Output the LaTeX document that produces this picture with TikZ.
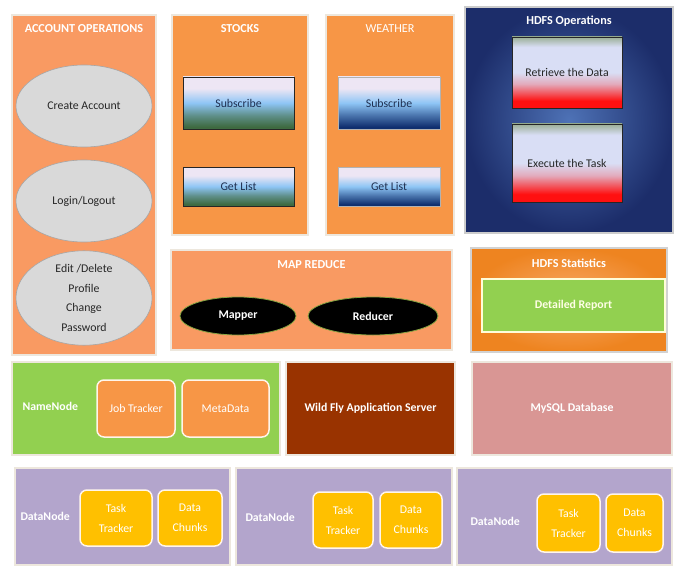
\documentclass[tikz,border=0pt]{standalone}
\usepackage{fontspec}
\setmainfont{Carlito}
\usetikzlibrary{shapes.geometric}
\definecolor{salmon}{HTML}{F99A62}
\definecolor{orng}{HTML}{F79646}
\definecolor{dkorng}{HTML}{EE8420}
\definecolor{grn}{HTML}{92D050}
\definecolor{brwn}{HTML}{993300}
\definecolor{pnk}{HTML}{D99694}
\definecolor{lav}{HTML}{B3A5CC}
\definecolor{ylw}{HTML}{FFC000}
\definecolor{frame}{HTML}{EDE7DD}
\definecolor{ellgray}{HTML}{D9D9D9}
\definecolor{navytxt}{HTML}{1F2F50}
\definecolor{sLav}{HTML}{EDE6F4}
\definecolor{sBlue}{HTML}{8EC5F5}
\definecolor{sGreen}{HTML}{3E6A40}
\definecolor{sNavy}{HTML}{0F2F6F}
\definecolor{rTop}{HTML}{9AAE96}
\definecolor{rLav}{HTML}{D9DEF5}
\definecolor{rRed}{HTML}{FF1010}
\definecolor{hIn}{HTML}{4E72B6}
\definecolor{hOut}{HTML}{1C2D6A}
\pgfdeclareverticalshading{stockshade}{100bp}{color(0bp)=(sGreen); color(27bp)=(sGreen); color(38bp)=(sGreen!60!sBlue); color(50bp)=(sBlue); color(64bp)=(sLav); color(100bp)=(sLav)}
\pgfdeclareverticalshading{weathshade}{100bp}{color(0bp)=(sNavy); color(27bp)=(sNavy); color(38bp)=(sNavy!55!sBlue); color(50bp)=(sBlue); color(64bp)=(sLav); color(100bp)=(sLav)}
\pgfdeclareverticalshading{hdfsshade}{100bp}{color(0bp)=(rRed); color(30bp)=(rRed); color(42bp)=(rRed!25!rLav); color(50bp)=(rLav); color(68bp)=(rLav); color(75bp)=(rTop); color(100bp)=(rTop)}
\tikzset{
  panel/.style={draw=frame, line width=1.5pt, inner sep=0pt},
  ptitle/.style={text=white, font=\bfseries\fontsize{12.2}{14}\selectfont},
  oval/.style={ellipse, fill=ellgray, draw=gray!70, line width=0.6pt, inner sep=0pt, align=center, text=black!85, font=\fontsize{11.8}{19.5}\selectfont},
  stbtn/.style={draw=black!85, line width=0.8pt, shading=stockshade, inner sep=0pt, text=navytxt, font=\fontsize{11.8}{13}\selectfont},
  wbtn/.style={draw=gray!60, line width=0.5pt, shading=weathshade, inner sep=0pt, text=navytxt, font=\fontsize{11.8}{13}\selectfont},
  hbtn/.style={draw=black!85, line width=0.8pt, shading=hdfsshade, inner sep=0pt, text=black!85, font=\fontsize{11.8}{13}\selectfont},
  blk/.style={ellipse, fill=black, draw=yellow!60!green!70!black, line width=0.8pt, inner sep=0pt, text=white, font=\bfseries\fontsize{11.8}{13}\selectfont},
  rbox/.style={rounded corners=7pt, draw=white!92!orange, line width=1.5pt, inner sep=0pt, align=center, text=white, font=\fontsize{11.8}{20}\selectfont},
  wlab/.style={text=white, font=\bfseries\fontsize{11.8}{13}\selectfont},
}
\begin{document}
\begin{tikzpicture}[x=1pt,y=-1pt]
\useasboundingbox[fill=white] (0,0) rectangle (677,567);
% Account operations
\node[panel, fill=salmon, minimum width=144pt, minimum height=340pt] (acct) at (84,185) {};
\node[ptitle] (acctT) at (84,29) {ACCOUNT OPERATIONS};
\node[oval, minimum width=136pt, minimum height=82pt] (create) at (84,106) {Create Account};
\node[oval, minimum width=136pt, minimum height=82pt] (login) at (84,201) {Login/Logout};
\node[oval, minimum width=136pt, minimum height=90pt] (edit) at (84,298) {Edit /Delete\\Profile\\Change\\Password};
% Stocks
\node[panel, fill=orng, minimum width=136pt, minimum height=220pt] (stocks) at (240,125) {};
\node[ptitle] (stocksT) at (240,29) {STOCKS};
\node[stbtn, minimum width=111pt, minimum height=52pt] (sub1) at (238.5,103) {Subscribe};
\node[stbtn, minimum width=111pt, minimum height=39pt] (get1) at (238.5,186.5) {Get List};
% Weather
\node[panel, fill=orng, minimum width=128pt, minimum height=220pt] (weather) at (390,125) {};
\node[ptitle, font=\fontsize{12.2}{14}\selectfont] (weatherT) at (390,29) {WEATHER};
\node[wbtn, minimum width=102pt, minimum height=52pt] (sub2) at (389,103) {Subscribe};
\node[wbtn, minimum width=102pt, minimum height=39pt] (get2) at (389,186.5) {Get List};
% HDFS operations
\node[panel, draw=gray!40, inner color=hIn, outer color=hOut, minimum width=208pt, minimum height=226pt] (hops) at (569,120) {};
\node[ptitle] (hopsT) at (569,21) {HDFS Operations};
\node[hbtn, minimum width=110pt, minimum height=71pt] (retr) at (567,72.5) {Retrieve the Data};
\node[hbtn, minimum width=110pt, minimum height=78pt] (exec) at (567,163) {Execute the Task};
% Map reduce
\node[panel, fill=salmon, minimum width=281pt, minimum height=100pt] (mapred) at (311.5,300) {};
\node[ptitle] (mapredT) at (311.5,265) {MAP REDUCE};
\node[blk, minimum width=116pt, minimum height=38pt] (mapper) at (238,316) {Mapper};
\node[blk, minimum width=130pt, minimum height=38pt] (reducer) at (373,316) {Reducer};
% HDFS statistics
\node[panel, draw=gray!35, inner color=orng!80!white, outer color=dkorng, minimum width=196pt, minimum height=104pt] (hstat) at (569,300) {};
\node[ptitle] (hstatT) at (569,263) {HDFS Statistics};
\node[draw=white!85!yellow, line width=1.5pt, fill=grn, inner sep=0pt, minimum width=183pt, minimum height=53pt, text=white!90!yellow, font=\bfseries\fontsize{11.8}{13}\selectfont] (report) at (573.5,305.5) {Detailed Report};
% NameNode row
\node[panel, fill=grn, minimum width=268pt, minimum height=93pt] (namenode) at (146,408.5) {};
\node[wlab, anchor=west] (nnL) at (19,406) {NameNode};
\node[rbox, fill=orng, minimum width=78pt, minimum height=57pt] (jobtr) at (136,408.5) {Job Tracker};
\node[rbox, fill=orng, minimum width=87pt, minimum height=57pt] (meta) at (225.5,408.5) {MetaData};
\node[panel, fill=brwn, minimum width=169pt, minimum height=93pt, wlab] (wildfly) at (370.5,408.5) {Wild Fly Application Server};
\node[panel, fill=pnk, minimum width=200pt, minimum height=93pt, wlab] (mysql) at (572,408.5) {MySQL Database};
% DataNode row
\node[panel, fill=lav, minimum width=215pt, minimum height=97pt] (dn1) at (122.5,516.5) {};
\node[panel, fill=lav, minimum width=216pt, minimum height=97pt] (dn2) at (344,516.5) {};
\node[panel, fill=lav, minimum width=215pt, minimum height=97pt] (dn3) at (564.5,516.5) {};
\node[wlab, anchor=west] (dn1L) at (17,516) {DataNode};
\node[wlab, anchor=west] (dn2L) at (242,517) {DataNode};
\node[wlab, anchor=west] (dn3L) at (467,521) {DataNode};
\node[rbox, fill=ylw, minimum width=72pt, minimum height=56pt] (tt1) at (116,518) {Task\\Tracker};
\node[rbox, fill=ylw, minimum width=64pt, minimum height=56pt] (dc1) at (190,518) {Data\\Chunks};
\node[rbox, fill=ylw, minimum width=60pt, minimum height=56pt] (tt2) at (343,520) {Task\\Tracker};
\node[rbox, fill=ylw, minimum width=62pt, minimum height=56pt] (dc2) at (411,520) {Data\\Chunks};
\node[rbox, fill=ylw, minimum width=63pt, minimum height=58pt] (tt3) at (568.5,523) {Task\\Tracker};
\node[rbox, fill=ylw, minimum width=57pt, minimum height=58pt] (dc3) at (634.5,523) {Data\\Chunks};
\end{tikzpicture}
\end{document}
